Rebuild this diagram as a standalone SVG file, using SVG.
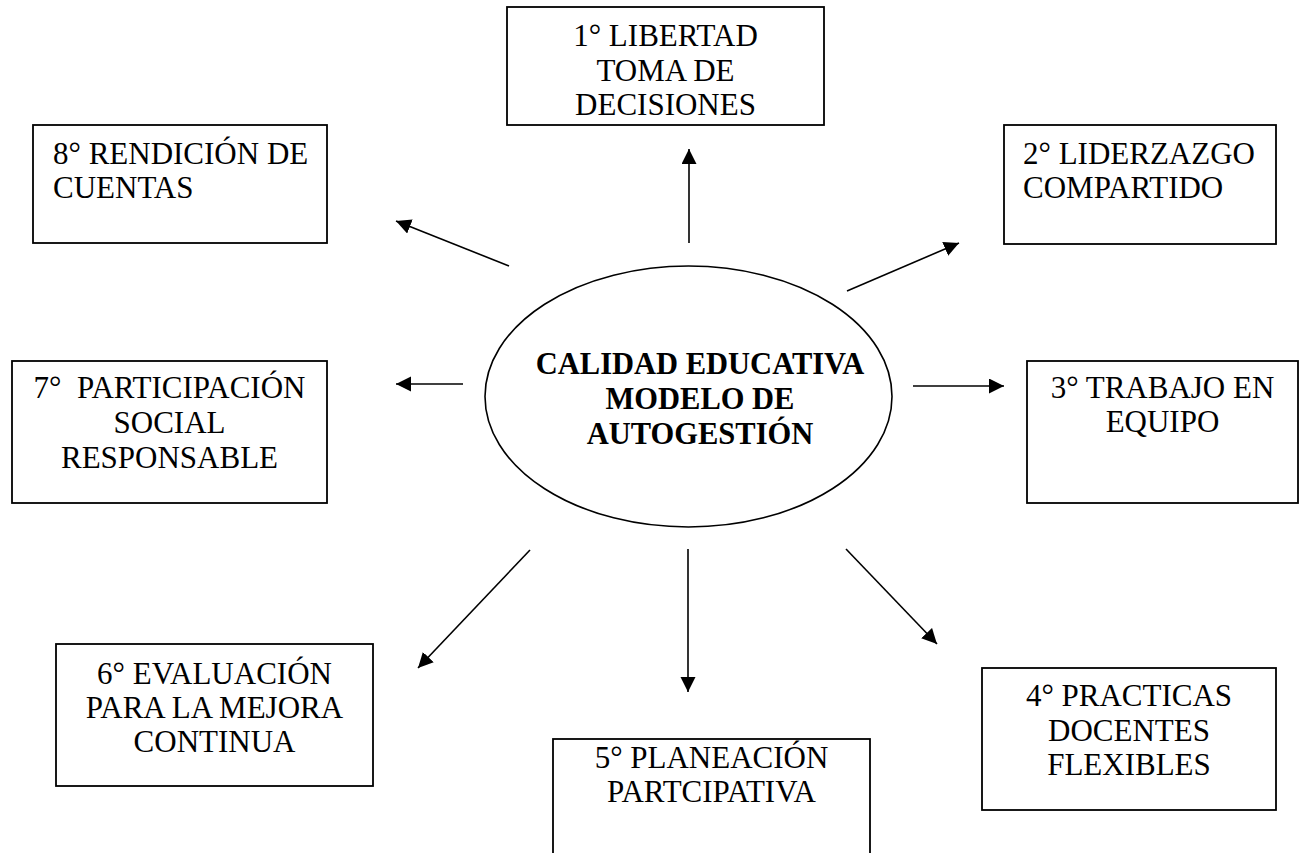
<svg xmlns="http://www.w3.org/2000/svg" width="1299" height="853" viewBox="0 0 1299 853">
<style>
.box{fill:#fff;stroke:#000;stroke-width:1.8}
.t{font-family:'Liberation Serif','Times New Roman',serif;font-size:31px;fill:#000}
.c{text-anchor:middle}
.b{font-weight:bold;font-size:30.5px}
.conn{stroke:#000;stroke-width:1.6;fill:none;marker-end:url(#ah)}
</style>
<defs>
<marker id="ah" markerUnits="userSpaceOnUse" markerWidth="16" markerHeight="16" refX="15" refY="7.5" orient="auto">
<path d="M0,0 L15,7.5 L0,15 Z" fill="#000"/>
</marker>
</defs>
<rect width="1299" height="853" fill="#fff"/>
<g id="center">
<ellipse cx="688.5" cy="396.5" rx="203.5" ry="130.5" fill="#fff" stroke="#000" stroke-width="1.6"/>
<text class="t c b" x="700" y="374">CALIDAD EDUCATIVA</text>
<text class="t c b" x="700" y="409">MODELO DE</text>
<text class="t c b" x="700" y="444">AUTOGESTIÓN</text>
</g>
<g id="n1">
<rect class="box" x="507" y="7" width="317" height="118"/>
<text class="t c" x="665.5" y="46">1° LIBERTAD</text>
<text class="t c" x="665.5" y="81">TOMA DE</text>
<text class="t c" x="665.5" y="115">DECISIONES</text>
</g>
<g id="n2">
<rect class="box" x="1004" y="125" width="272" height="119"/>
<text class="t" x="1023" y="164">2° LIDERZAZGO</text>
<text class="t" x="1023" y="198">COMPARTIDO</text>
</g>
<g id="n3">
<rect class="box" x="1027" y="361" width="271" height="142"/>
<text class="t c" x="1162.5" y="398">3° TRABAJO EN</text>
<text class="t c" x="1162.5" y="432">EQUIPO</text>
</g>
<g id="n4">
<rect class="box" x="982" y="668" width="294" height="142"/>
<text class="t c" x="1129" y="706">4° PRACTICAS</text>
<text class="t c" x="1129" y="741">DOCENTES</text>
<text class="t c" x="1129" y="775">FLEXIBLES</text>
</g>
<g id="n5">
<rect class="box" x="553" y="739" width="317" height="130"/>
<text class="t c" x="711.5" y="768">5° PLANEACIÓN</text>
<text class="t c" x="711.5" y="802">PARTCIPATIVA</text>
</g>
<g id="n6">
<rect class="box" x="56" y="644" width="317" height="142"/>
<text class="t c" x="214.5" y="684">6° EVALUACIÓN</text>
<text class="t c" x="214.5" y="718">PARA LA MEJORA</text>
<text class="t c" x="214.5" y="752">CONTINUA</text>
</g>
<g id="n7">
<rect class="box" x="12" y="361" width="315" height="142"/>
<text class="t c" x="169.5" y="398" xml:space="preserve">7°  PARTICIPACIÓN</text>
<text class="t c" x="169.5" y="433">SOCIAL</text>
<text class="t c" x="169.5" y="468">RESPONSABLE</text>
</g>
<g id="n8">
<rect class="box" x="33" y="125" width="294" height="118"/>
<text class="t" x="53" y="164">8° RENDICIÓN DE</text>
<text class="t" x="53" y="198">CUENTAS</text>
</g>
<g id="connectors">
<line class="conn" x1="689" y1="243" x2="689" y2="149"/>
<line class="conn" x1="847" y1="291" x2="959" y2="243"/>
<line class="conn" x1="913" y1="386" x2="1004" y2="386"/>
<line class="conn" x1="846" y1="549" x2="937" y2="644"/>
<line class="conn" x1="688" y1="549" x2="688" y2="692"/>
<line class="conn" x1="530" y1="550" x2="418" y2="668"/>
<line class="conn" x1="463" y1="384" x2="396" y2="384"/>
<line class="conn" x1="509" y1="266" x2="396" y2="221"/>
</g>
</svg>
